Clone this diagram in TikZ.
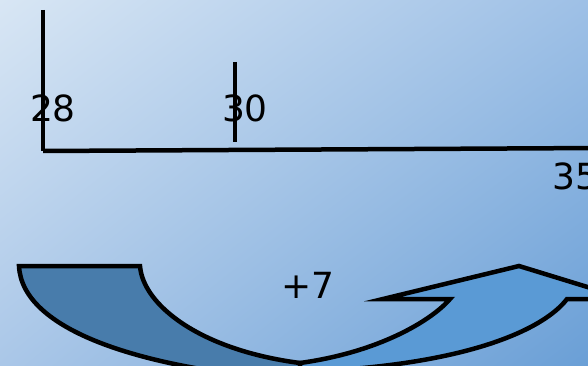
\documentclass[tikz,border=0pt]{standalone}
\usepackage{fontspec}
\setmainfont{DejaVu Sans}
\usetikzlibrary{shadings}
\definecolor{bgtl}{HTML}{D8E6F4}
\definecolor{bgtr}{HTML}{9EC0E6}
\definecolor{bgbl}{HTML}{AAC7E8}
\definecolor{bgbr}{HTML}{6A9FD6}
\definecolor{darkband}{HTML}{487CAB}
\definecolor{lightband}{HTML}{5A9AD5}
\tikzset{
  numlbl/.style={font=\fontsize{36}{36}\selectfont, inner sep=0pt},
  axisline/.style={line width=4.5pt},
  band/.style={line width=4.5pt, draw=black, line join=miter}
}
\begin{document}
\begin{tikzpicture}[x=1pt,y=-1pt]
\useasboundingbox (0,0) rectangle (588,366);
\clip (0,0) rectangle (588,366);
\shade[upper left=bgtl, upper right=bgtr, lower left=bgbl, lower right=bgbr] (0,0) rectangle (588,366);
\path coordinate (top28) at (43,10)
coordinate (corner) at (43,151)
coordinate (end) at (600,148)
coordinate (top30) at (235,62)
coordinate (bot30) at (235,142)
node[numlbl] (n28) at (53,108) {28}
node[numlbl] (n30) at (245,108) {30}
node[numlbl] (n35) at (575,176) {35}
node[numlbl] (plus) at (308,285) {+7}
;
\draw[axisline]   (top28) -- (corner);
\draw[axisline]   (corner) -- (end);
\draw[axisline]   (top30) -- (bot30);
\draw[band, fill=darkband] (19,266) -- (140,266)
  .. controls (143,305) and (200,350) .. (300,363)
  -- (300,380) -- (290,380)
  .. controls (140,368) and (22,330) .. (19,266) -- cycle;
\draw[band, fill=lightband] (300,363)
  .. controls (380,352) and (432,320) .. (450,299)
  -- (383,299) -- (519,266) -- (620,297) -- (620,299) -- (567,299)
  .. controls (545,328) and (470,366) .. (300,372)
  -- cycle;
\end{tikzpicture}
\end{document}
